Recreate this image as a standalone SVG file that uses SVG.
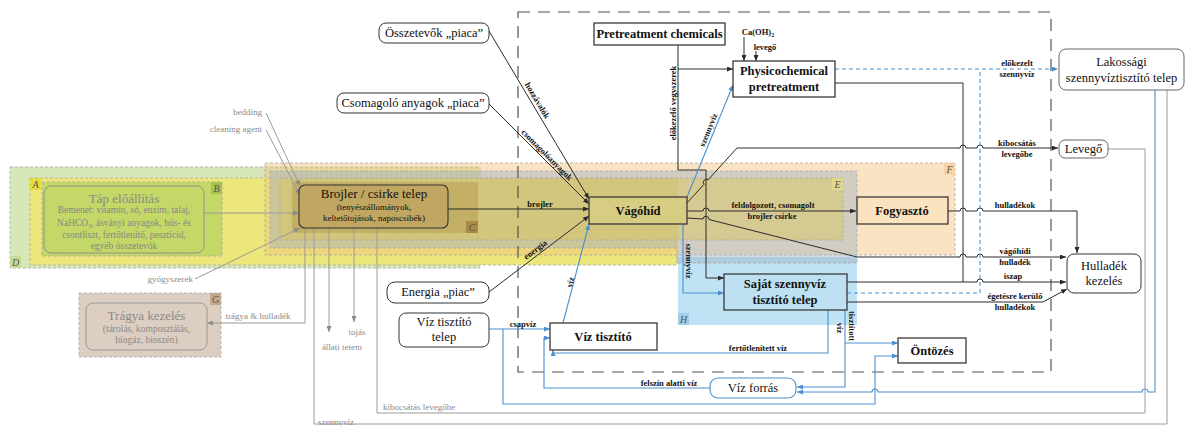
<svg xmlns="http://www.w3.org/2000/svg" width="1185" height="426" viewBox="0 0 1185 426">
<defs>
<style>
text{font-family:"Liberation Serif","Times New Roman",serif}
.reg{stroke:#a8a8a8;stroke-width:0.8;stroke-dasharray:3 2}
.lab{font-size:10px;font-style:italic;fill:#555;text-anchor:middle}
.bx{fill:#fff;stroke:#3a3a3a;stroke-width:1.3}
.rb{fill:#fff;stroke:#333;stroke-width:1}
.nt{font-size:12.5px;fill:#111;text-anchor:middle}
.bt{font-size:12.5px;font-weight:bold;fill:#111;text-anchor:middle}
.gt{font-size:9px;fill:#8a8a8a}
.cl{font-size:8.5px;font-weight:bold;fill:#111;text-anchor:middle}
.k{fill:none;stroke:#2b2b2b;stroke-width:1}
.g{fill:none;stroke:#9a9a9a;stroke-width:1}
.b{fill:none;stroke:#4a8fd0;stroke-width:1.1}
.bd{fill:none;stroke:#4a8fd0;stroke-width:1.1;stroke-dasharray:4 3}
</style>
<marker id="ak" viewBox="0 0 6 5" refX="6" refY="2.5" markerWidth="6" markerHeight="5" markerUnits="userSpaceOnUse" orient="auto"><path d="M0,0L6,2.5L0,5z" fill="#2b2b2b"/></marker>
<marker id="ag" viewBox="0 0 6 5" refX="6" refY="2.5" markerWidth="6" markerHeight="5" markerUnits="userSpaceOnUse" orient="auto"><path d="M0,0L6,2.5L0,5z" fill="#8a8a8a"/></marker>
<marker id="ab" viewBox="0 0 6 5" refX="6" refY="2.5" markerWidth="6" markerHeight="5" markerUnits="userSpaceOnUse" orient="auto"><path d="M0,0L6,2.5L0,5z" fill="#4a8fd0"/></marker>
</defs>

<g id="regions">
<rect id="reg-D" x="10" y="167" width="470" height="101" fill="#d8e7b8" class="reg"/>
<rect id="reg-A" x="30" y="178" width="647" height="87" fill="#ebe77a" class="reg"/>
<rect id="reg-F" x="265" y="163" width="690" height="92" fill="#f5c27a" fill-opacity="0.45" class="reg"/>
<rect id="reg-H" x="678" y="257" width="179" height="68" fill="#bfe2f4"/>
<path id="reg-grey" d="M270,171H857V263H677V248H270Z" fill="#9fb2c0" fill-opacity="0.45" class="reg"/>
<rect id="reg-E" x="280" y="178" width="563" height="62" fill="#d9c860" fill-opacity="0.5" class="reg"/>
<rect id="reg-B" x="42" y="182" width="180" height="74" fill="#c3d866" class="reg"/>
<rect id="reg-C" x="292" y="182" width="186" height="51" fill="#b59a50" fill-opacity="0.55"/>
<rect id="reg-G" x="79" y="293" width="142" height="64" fill="#dccfc1" class="reg"/>
<rect x="30" y="178" width="11" height="12" fill="#e6dc3c"/><text class="lab" x="35.5" y="188">A</text>
<rect x="211" y="182" width="11" height="12" fill="#a6c44a"/><text class="lab" x="216.5" y="192">B</text>
<rect x="466" y="221" width="12" height="12" fill="#a88c45"/><text class="lab" x="472" y="231">C</text>
<rect x="10" y="256" width="11" height="12" fill="#c8dc98"/><text class="lab" x="15.5" y="266">D</text>
<rect x="832" y="178" width="11" height="12" fill="#e2d98a"/><text class="lab" x="837.5" y="188">E</text>
<rect x="944" y="163" width="11" height="12" fill="#f5d2a0"/><text class="lab" x="949.5" y="173">F</text>
<rect x="210" y="293" width="11" height="12" fill="#c3a98e"/><text class="lab" x="215.5" y="303">G</text>
<rect x="678" y="313" width="11" height="12" fill="#9fcfe8"/><text class="lab" x="683.5" y="323">H</text>
</g>

<g id="boundary">
<rect x="518" y="12" width="533" height="360" fill="none" stroke="#555" stroke-width="1.2" stroke-dasharray="12 8"/>
</g>

<g id="connectors">
<path class="k" d="M489,31L589,199" marker-end="url(#ak)"/>
<path class="k" d="M489,104L589,204" marker-end="url(#ak)"/>
<path class="k" d="M448,209L589,209" marker-end="url(#ak)"/>
<path class="k" d="M489,292L589,216" marker-end="url(#ak)"/>
<path class="k" d="M678,45L678,170L706,170L706,278L724,278" marker-end="url(#ak)"/>
<path class="k" d="M678,69L733,69" marker-end="url(#ak)"/>
<path class="k" d="M744,37L744,61" marker-end="url(#ak)"/>
<path class="k" d="M756,51L756,61" marker-end="url(#ak)"/>
<path class="k" d="M835,83L963,83L963,282"/>
<path class="k" d="M687,203L704,184.3A3,3 0 0 1 708,179.9L737,148L960,148A3,3 0 0 1 966,148L977,148A3,3 0 0 1 983,148L1058,148" marker-end="url(#ak)"/>
<path class="k" d="M687,211L703,211A3,3 0 0 1 709,211L856,211" marker-end="url(#ak)"/>
<path class="k" d="M687,218L703,219A3,3 0 0 1 709,219.5L857,257L960,257A3,3 0 0 1 966,257L977,257A3,3 0 0 1 983,257L1066,257" marker-end="url(#ak)"/>
<path class="k" d="M948,211L960,211A3,3 0 0 1 966,211L977,211A3,3 0 0 1 983,211L1077,211L1077,253" marker-end="url(#ak)"/>
<path class="k" d="M847,282L977,282A3,3 0 0 1 983,282L1066,282" marker-end="url(#ak)"/>
<path class="k" d="M847,302L1043,302L1067,289" marker-end="url(#ak)"/>

<path class="b" d="M687,197L733,85" marker-end="url(#ab)"/>
<path class="b" d="M683,224L683,293L724,293" marker-end="url(#ab)"/>
<path class="b" d="M563,323L589,224" marker-end="url(#ab)"/>
<path class="b" d="M489,329L550,329" marker-end="url(#ab)"/>
<path class="b" d="M503,329L503,404L875,404L875,356L898,356" marker-end="url(#ab)"/>
<path class="b" d="M828,310L828,353L553,353L553,350" marker-end="url(#ab)"/>
<path class="b" d="M845,310L845,387L797,387" marker-end="url(#ab)"/>
<path class="b" d="M845,343L898,343" marker-end="url(#ab)"/>
<path class="b" d="M710,388L544,388L544,338L550,338" marker-end="url(#ab)"/>
<path class="b" d="M1155,90L1155,392L1148,392A3,3 0 0 0 1142,392L878,392A3,3 0 0 0 872,392L797,392" marker-end="url(#ab)"/>
<path class="bd" d="M835,69L1058,69" marker-end="url(#ab)"/>
<path class="bd" d="M847,293L980,293L980,69"/>

<path class="g" d="M266,113L300,186" marker-end="url(#ag)"/>
<path class="g" d="M266,130L300,195" marker-end="url(#ag)"/>
<path class="g" d="M204,213L299,213" marker-end="url(#ag)"/>
<path class="g" d="M195,279L300,228" marker-end="url(#ag)"/>
<path class="g" d="M305,228L305,323L207,323" marker-end="url(#ag)"/>
<path class="g" d="M314,228L314,424L1167,424L1167,90"/>
<path class="g" d="M329,228L329,332" marker-end="url(#ag)"/>
<path class="g" d="M354,228L354,322" marker-end="url(#ag)"/>
<path class="g" d="M377,228L377,413L1145,413L1145,149L1108,149"/>

<text class="cl" transform="translate(535,102) rotate(59)">hozzávalók</text>
<text class="cl" transform="translate(545,157) rotate(45)">csomagolóanyagok</text>
<text class="cl" x="540" y="207">brojler</text>
<text class="cl" transform="translate(537,252) rotate(-37)">energia</text>
<text class="cl" transform="translate(573,283) rotate(-75)">víz</text>
<text class="cl" transform="translate(711,131) rotate(-67.7)">szennyvíz</text>
<text class="cl" transform="translate(675.5,103) rotate(-90)">előkezelő vegyszerek</text>
<text class="cl" transform="translate(686,261) rotate(90)">szennyvíz</text>
<text class="cl" transform="translate(849,326) rotate(90)">tisztított</text>
<text class="cl" transform="translate(837,328) rotate(90)">víz</text>
<text class="cl" x="773" y="208">feldolgozott, csomagolt</text>
<text class="cl" x="772" y="219">brojler csirke</text>
<text class="cl" x="1017" y="66">előkezelt</text>
<text class="cl" x="1017" y="77">szennyvíz</text>
<text class="cl" x="1017" y="146">kibocsátás</text>
<text class="cl" x="1017" y="157">levegőbe</text>
<text class="cl" x="1015" y="208">hulladékok</text>
<text class="cl" x="1015" y="254">vágóhídi</text>
<text class="cl" x="1015" y="265">hulladék</text>
<text class="cl" x="1013" y="279">iszap</text>
<text class="cl" x="1015" y="299">égetésre kerülő</text>
<text class="cl" x="1015" y="310">hulladékok</text>
<text class="cl" x="523" y="327">csapvíz</text>
<text class="cl" x="758" y="351">fertőtlenített víz</text>
<text class="cl" x="669" y="386">felszín alatti víz</text>
<text class="cl" x="758" y="35">Ca(OH)<tspan font-size="6" dy="2">2</tspan></text>
<text class="cl" x="765" y="50">levegő</text>

<text class="gt" x="262" y="115" text-anchor="end">bedding</text>
<text class="gt" x="262" y="132" text-anchor="end">cleaning agent</text>
<text class="gt" x="193" y="282" text-anchor="end">gyógyszerek</text>
<text class="gt" x="258" y="319" text-anchor="middle">trágya &amp; hulladék</text>
<text class="gt" x="342" y="350" text-anchor="middle">állati tetem</text>
<text class="gt" x="357" y="335" text-anchor="middle">tojás</text>
<text class="gt" x="318" y="425">szennyvíz</text>
<text class="gt" x="383" y="410">kibocsátás levegőbe</text>
</g>

<g id="node-tap">
<rect x="44" y="186" width="160" height="67" rx="7" fill="#c3d866" stroke="#909090" stroke-width="1"/>
<text x="124" y="203" font-size="13" fill="#888" text-anchor="middle">Táp előállítás</text>
<text x="124" y="213" font-size="9.5" fill="#888" text-anchor="middle">Bemenet: vitamin, só, enzim, talaj,</text>
<text x="124" y="226" font-size="9.5" fill="#888" text-anchor="middle">NaHCO<tspan font-size="6" dy="2">3</tspan><tspan dy="-2">, ásványi anyagok, hús- és</tspan></text>
<text x="124" y="238" font-size="9.5" fill="#888" text-anchor="middle">csontliszt, fertőtlenítő, peszticid,</text>
<text x="124" y="249" font-size="9.5" fill="#888" text-anchor="middle">egyéb összetevők</text>
</g>
<g id="node-brojler">
<rect x="299" y="185" width="149" height="43" rx="6" fill="#c0a660" stroke="#333" stroke-width="1.1"/>
<text x="374" y="198" font-size="13" fill="#111" text-anchor="middle">Brojler / csirke telep</text>
<text x="374" y="209.5" font-size="9" fill="#111" text-anchor="middle">(tenyészállományok,</text>
<text x="374" y="220.5" font-size="9" fill="#111" text-anchor="middle">keltetőtojások, naposcsibék)</text>
</g>
<g id="node-tragya">
<rect x="86" y="303" width="121" height="47" rx="7" fill="#dccfc1" stroke="#999" stroke-width="1"/>
<text x="146.5" y="320" font-size="13" fill="#8a8a8a" text-anchor="middle">Trágya kezelés</text>
<text x="146.5" y="332" font-size="9.5" fill="#8a8a8a" text-anchor="middle">(tárolás, komposztálás,</text>
<text x="146.5" y="343" font-size="9.5" fill="#8a8a8a" text-anchor="middle">biogáz, bioszén)</text>
</g>
<g id="node-osszetevok">
<rect class="rb" x="379" y="23" width="110" height="20" rx="7"/>
<text class="nt" x="434" y="37" font-size="12">Összetevők „piaca”</text>
</g>
<g id="node-csomagolo">
<rect class="rb" x="337" y="93" width="152" height="20" rx="7"/>
<text class="nt" x="413" y="107" font-size="12">Csomagoló anyagok „piaca”</text>
</g>
<g id="node-energia">
<rect class="rb" x="387" y="282" width="102" height="21" rx="8"/>
<text class="nt" x="438" y="296" font-size="12">Energia „piac”</text>
</g>
<g id="node-viztisztito-telep">
<rect class="rb" x="399" y="313" width="90" height="34" rx="7"/>
<text class="nt" x="444" y="326">Víz tisztító</text>
<text class="nt" x="444" y="341">telep</text>
</g>
<g id="node-pretreatment-chemicals">
<rect class="bx" x="594" y="23" width="131" height="22"/>
<text class="bt" x="659.5" y="38" font-size="12">Pretreatment chemicals</text>
</g>
<g id="node-physicochemical">
<rect class="bx" x="733" y="61" width="102" height="36"/>
<text class="bt" x="784" y="75">Physicochemical</text>
<text class="bt" x="784" y="91">pretreatment</text>
</g>
<g id="node-vagohid">
<rect class="bx" x="589" y="197" width="98" height="27" style="fill:#d6cc82"/>
<text class="bt" x="638" y="215" font-size="13">Vágóhíd</text>
</g>
<g id="node-fogyaszto">
<rect class="bx" x="857" y="197" width="91" height="27" style="fill:#fbe3bf"/>
<text class="bt" x="902" y="215" font-size="13">Fogyasztó</text>
</g>
<g id="node-sajat">
<rect class="bx" x="724" y="274" width="123" height="36" style="fill:#bde0f2"/>
<text class="bt" x="785" y="288">Saját szennyvíz</text>
<text class="bt" x="785" y="304">tisztító telep</text>
</g>
<g id="node-viztisztito">
<rect class="bx" x="550" y="323" width="107" height="27"/>
<text class="bt" x="603" y="341" font-size="12">Víz tisztító</text>
</g>
<g id="node-ontozes">
<rect class="bx" x="898" y="338" width="68" height="25"/>
<text class="bt" x="932" y="355" font-size="13">Öntözés</text>
</g>
<g id="node-vizforras">
<rect x="710" y="378" width="86" height="20" rx="8" fill="#fff" stroke="#4a8fd0" stroke-width="1.1"/>
<text class="nt" x="753" y="392">Víz forrás</text>
</g>
<g id="node-lakossagi">
<rect class="rb" x="1059" y="49" width="125" height="41" rx="7" style="stroke:#666"/>
<text class="nt" x="1121.5" y="66" font-size="13">Lakossági</text>
<text class="nt" x="1121.5" y="82">szennyvíztisztító telep</text>
</g>
<g id="node-levego">
<rect class="rb" x="1059" y="140" width="49" height="18" rx="6" style="stroke:#666"/>
<text class="nt" x="1083.5" y="153" font-size="13">Levegő</text>
</g>
<g id="node-hulladek">
<rect class="rb" x="1067" y="254" width="74" height="39" rx="7"/>
<text class="nt" x="1104" y="270" font-size="13">Hulladék</text>
<text class="nt" x="1104" y="285" font-size="13">kezelés</text>
</g>
</svg>
